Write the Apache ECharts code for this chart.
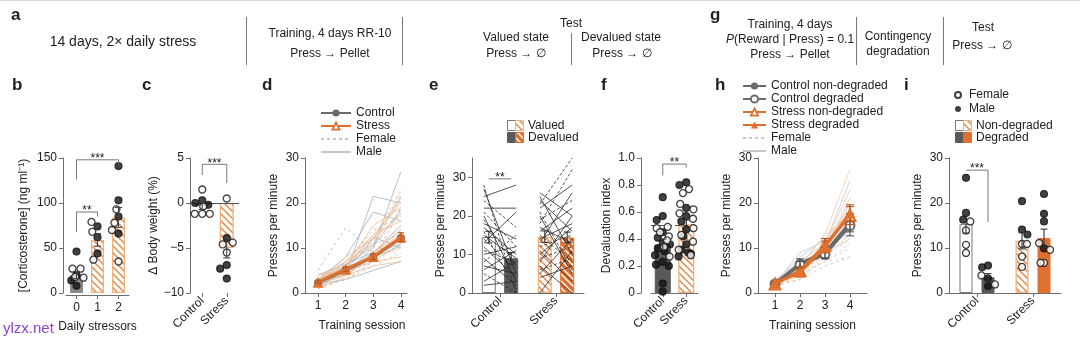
<!DOCTYPE html>
<html><head><meta charset="utf-8">
<script src="https://cdn.jsdelivr.net/npm/echarts@6/dist/echarts.min.js"></script>
<style>html,body{margin:0;padding:0;background:#fff}#c{width:1080px;height:344px}</style>
</head><body><div id="c"></div>
<script>
// ================= DATA =================
// b: corticosterone
const bCats = ['0', '1', '2'];
const bMeans = [20, 59, 84];
const bSem = [4, 7, 11];
const bFemale = [[27, 27, 18, 17], [79, 68, 37], [93, 78, 70, 35]];
const bMale = [[46, 20, 14, 8], [74, 62, 44], [141, 103, 85, 66]];
// c: body weight
const cCats = ['Control', 'Stress'];
const cMeans = [-0.3, -5.0];
const cSem = [0.4, 1.1];
const cFemale = [[1.5, -0.4, -1.2, -1.2, -1.2], [0.5, -4.6, -4.4, -5.5]];
const cMale = [[0.3, 0.0, -0.2], [-3.9, -6.9, -7.3, -8.4]];
// d: training
const dSessions = [1, 2, 3, 4];
const dCtrlMean = [2.3, 5.1, 8.0, 12.2];
const dCtrlSem = [0.3, 0.5, 0.7, 1.0];
const dStressMean = [2.4, 5.3, 8.1, 12.4];
const dStressSem = [0.3, 0.5, 0.7, 1.0];
const dCtrlLines = [[2.0,4.0,9.0,14.0],[3.0,6.0,10.5,18.5],[1.5,3.0,7.0,11.0],[2.5,5.0,12.0,21.5],[3.0,5.5,8.0,10.5],[2.0,7.0,14.0,17.0],[4.0,6.5,9.0,15.0],[1.5,4.5,10.0,27.0],[2.0,3.0,5.0,7.0],[3.0,8.0,18.0,16.0],[2.5,4.0,21.5,20.0],[1.0,6.0,11.0,13.0],[5.0,14.5,9.0,12.0],[2.0,5.5,8.5,11.0],[3.0,4.5,7.0,19.0],[2.0,6.0,12.5,10.0]];
const dCtrlSex = ['M','M','F','M','M','F','M','M','M','M','M','F','F','M','F','M'];
const dStressLines = [[2.0,5.0,8.0,12.0],[3.0,7.0,13.0,20.0],[1.0,3.0,6.0,9.0],[2.0,6.0,11.0,22.5],[4.0,5.0,7.0,8.0],[2.0,4.0,9.0,15.0],[3.0,6.0,15.0,19.0],[1.5,5.0,8.0,13.0],[2.0,8.0,12.0,17.5],[3.0,4.0,6.0,7.0],[2.0,6.5,10.0,18.0],[1.0,3.5,9.0,14.0],[3.0,7.0,11.0,21.0],[2.5,5.0,7.0,11.0],[4.0,6.0,13.0,16.0],[2.0,4.0,8.0,10.0],[1.0,6.0,12.0,23.0],[3.0,5.0,9.0,13.0]];
const dStressSex = ['M','M','F','F','M','M','M','F','M','M','F','M','M','F','M','M','F','M'];
// e: devaluation test
const eCats = ['Control', 'Stress'];
const eMeans = [[14.5, 9.0], [14.6, 14.4]];
const eSem = [[1.5, 1.5], [1.5, 1.4]];
const eCtrlValued   = [28, 27, 25, 22, 21, 20, 19, 18, 17, 16, 15, 14, 13, 12, 11, 10, 9, 8, 7, 6, 5, 3, 2, 24];
const eCtrlDevalued = [0, 5, 28, 22, 12, 3, 7, 14, 10, 1, 9, 6, 21, 4, 8, 12, 2, 15, 5, 11, 0, 8, 3, 17];
const eCtrlSex = ['F','M','M','M','F','M','F','M','M','F','M','F','M','M','F','M','M','F','M','M','F','M','M','F'];
const eStressValued   = [23, 18, 26, 25, 22, 20, 19, 17, 16, 15, 14, 13, 12, 11, 10, 9, 8, 7, 6, 5, 0, 21, 24, 4];
const eStressDevalued = [35, 32, 20, 10, 28, 5, 24, 13, 22, 8, 18, 26, 15, 3, 17, 12, 20, 0, 9, 14, 11, 6, 16, 7];
const eStressSex = ['F','F','M','M','M','M','F','M','M','F','M','M','F','M','M','F','M','M','F','M','M','F','M','M'];
// f: devaluation index
const fCats = ['Control', 'Stress'];
const fMeans = [0.36, 0.51];
const fSem = [0.04, 0.03];
const fFemale = [[0.49, 0.48, 0.45, 0.42, 0.39, 0.34, 0.27], [0.77, 0.74, 0.66, 0.62, 0.59, 0.55, 0.48, 0.43, 0.38, 0.32, 0.28]];
const fMale = [[0.71, 0.57, 0.54, 0.45, 0.41, 0.37, 0.36, 0.33, 0.31, 0.28, 0.23, 0.21, 0.20, 0.07, 0.01], [0.82, 0.80, 0.63, 0.57, 0.53, 0.47, 0.42, 0.36, 0.32, 0.30, 0.29, 0.27]];
// h: RI training
const hSessions = [1, 2, 3, 4];
const hNames = ['Control non-degraded', 'Control degraded', 'Stress non-degraded', 'Stress degraded'];
const hMeans = [[2.1, 6.6, 9.0, 15.6], [2.0, 6.2, 8.6, 15.0], [2.0, 5.0, 10.6, 17.2], [2.2, 4.6, 10.2, 17.8]];
const hSem = [[0.3, 1.0, 1.2, 2.0], [0.3, 0.8, 1.0, 2.3], [0.3, 0.8, 1.5, 2.0], [0.3, 0.8, 1.3, 1.8]];
const hCtrlLines = [[2.0,6.0,9.0,14.0],[2.5,8.0,12.0,18.0],[1.5,4.0,7.0,10.0],[3.0,7.0,11.0,25.0],[2.0,5.0,8.0,13.0],[2.0,9.0,11.5,16.0],[1.5,3.0,6.0,8.0],[2.0,6.5,10.0,20.0],[3.0,5.0,9.0,12.0],[2.0,7.0,8.0,15.0],[1.5,5.0,10.0,17.0],[2.0,4.0,7.0,11.0]];
const hCtrlSex = ['M','M','F','M','F','M','F','M','M','F','M','F'];
const hStressLines = [[2.0,5.0,11.0,19.0],[2.0,4.0,9.0,14.0],[3.0,6.0,13.0,27.5],[1.5,3.0,8.0,12.0],[2.0,5.0,10.0,21.0],[2.5,4.0,12.0,18.0],[3.0,6.0,9.0,15.0],[1.5,4.0,7.0,8.0],[2.0,5.5,11.0,23.0],[2.0,3.0,9.0,13.0],[2.5,6.0,13.0,17.0],[1.5,4.0,10.0,16.0]];
const hStressSex = ['M','F','M','F','M','M','F','F','M','F','M','F'];
// i: contingency degradation test
const iCats = ['Control', 'Stress'];
const iMeans = [[15.3, 3.5], [11.6, 12.2]];
const iSem = [[2.0, 0.8], [1.8, 2.0]];
const iFemale = [[[15.9, 13.9, 10.7, 8.9], [3.9, 1.9]], [[10.9, 10.9, 8.1, 5.8], [11.1, 9.6, 6.7, 6.7]]];
const iMale = [[[25.6, 17.8, 16.3], [6.1, 5.7, 3.2, 1.5]], [[20.4, 14.1, 13.0], [22.0, 17.6, 15.9, 9.9]]];

// ================= STYLE / LAYOUT =================
const FONT = "'Liberation Sans', Arial, Helvetica, sans-serif";
const TXT = '#222', AX = '#6e6e6e';
const ORANGE = '#e0702f', ORANGE_LIGHT = '#efb07c', DARK = '#5a5a5a';
const PLOT_TOP = 158, PLOT_H = 135;

function hatch(bg, fg, size, lw) {
  const c = document.createElement('canvas'); c.width = c.height = size;
  const x = c.getContext('2d'); x.fillStyle = bg; x.fillRect(0, 0, size, size);
  x.strokeStyle = fg; x.lineWidth = lw; x.beginPath();
  x.moveTo(-1, -1); x.lineTo(size + 1, size + 1);
  x.moveTo(size - 2, -2); x.lineTo(size + 2, 2);
  x.moveTo(-2, size - 2); x.lineTo(2, size + 2);
  x.stroke();
  return { image: c, repeat: 'repeat' };
}
const HATCH = hatch('#ffffff', '#e38a4e', 7, 1.5);
const HATCH_INV = hatch(ORANGE, '#ffffff', 7, 1.4);
const ST = {
  gray: { color: '#8a8a8a', borderColor: '#8a8a8a', borderWidth: 1 },
  white: { color: '#ffffff', borderColor: '#7a7a7a', borderWidth: 1 },
  dark: { color: DARK, borderColor: DARK, borderWidth: 1 },
  hatch: { color: HATCH, borderColor: ORANGE_LIGHT, borderWidth: 1.3 },
  hatchInv: { color: HATCH_INV, borderColor: ORANGE, borderWidth: 1 },
  solid: { color: ORANGE, borderColor: ORANGE, borderWidth: 1 }
};

const grids = [], xAxis = [], yAxis = [], series = [], graphic = [], legend = [];
function isObj(o) { return o && typeof o === 'object' && !Array.isArray(o) && !(o.image); }
function merge(a, b) { for (const k in b) { if (isObj(b[k]) && isObj(a[k])) merge(a[k], b[k]); else a[k] = b[k]; } return a; }
function addGrid(left, width) { grids.push({ left, width, top: PLOT_TOP, height: PLOT_H }); return grids.length - 1; }
function base() {
  return {
    axisLine: { show: true, onZero: false, lineStyle: { color: AX, width: 1 } },
    axisTick: { show: true, length: 4, lineStyle: { color: AX, width: 1 } },
    axisLabel: { color: TXT, fontSize: 12, fontFamily: FONT, margin: 6 },
    splitLine: { show: false },
    nameTextStyle: { color: TXT, fontSize: 12, fontFamily: FONT }
  };
}
function addY(g, min, max, interval, name, nameGap, opts) {
  yAxis.push(merge(merge(base(), { gridIndex: g, type: 'value', min, max, interval, name, nameLocation: 'middle', nameGap, nameRotate: 90 }), opts || {}));
  return yAxis.length - 1;
}
function addCatX(g, cats, opts) {
  xAxis.push(merge(merge(base(), { gridIndex: g, type: 'category', data: cats, boundaryGap: true, axisTick: { alignWithLabel: true } }), opts || {}));
  return xAxis.length - 1;
}
function addValX(g, min, max, ticks, name, nameGap, opts) {
  xAxis.push(merge(merge(base(), { gridIndex: g, type: 'value', min, max, name, nameLocation: 'middle', nameGap,
    axisTick: { customValues: ticks }, axisLabel: { customValues: ticks, margin: 7 } }), opts || {}));
  return xAxis.length - 1;
}
function addHX(g, n, opts) { xAxis.push(merge({ gridIndex: g, type: 'category', data: [...Array(n).keys()].map(String), show: false }, opts || {})); return xAxis.length - 1; }
function addHY(g, min, max) { yAxis.push({ gridIndex: g, type: 'value', min, max, show: false }); return yAxis.length - 1; }

function pts(xi, females, males) {
  const out = [];
  males.forEach(v => out.push({ value: [xi, v], itemStyle: { color: '#111', borderColor: '#111', borderWidth: 1.2 } }));
  females.forEach(v => out.push({ value: [xi, v], itemStyle: { color: '#fff', borderColor: '#111', borderWidth: 1.3 } }));
  return out;
}
function errSeries(xi, yi, items, color, cap) { // items: [x, mean, sem]
  return { type: 'custom', xAxisIndex: xi, yAxisIndex: yi, z: 6, silent: true,
    data: items.map(d => [d[0], d[1] - d[2], d[1] + d[2]]), encode: { x: 0, y: [1, 2] },
    renderItem: (p, api) => {
      const d = items[p.dataIndex];
      const a = api.coord([d[0], d[1] + d[2]]), b = api.coord([d[0], d[1] - d[2]]);
      const h = cap / 2, st = { stroke: color, lineWidth: 1.1 };
      return { type: 'group', children: [
        { type: 'line', shape: { x1: a[0], y1: a[1], x2: b[0], y2: b[1] }, style: st },
        { type: 'line', shape: { x1: a[0] - h, y1: a[1], x2: a[0] + h, y2: a[1] }, style: st },
        { type: 'line', shape: { x1: b[0] - h, y1: b[1], x2: b[0] + h, y2: b[1] }, style: st }] };
    } };
}
function bracket(xi, yi, items) { // {x1,x2,y,d1,d2,t}
  return { type: 'custom', xAxisIndex: xi, yAxisIndex: yi, z: 7, silent: true,
    data: items.map(it => [it.x1, it.x2, it.y]), encode: { x: [0, 1], y: 2 },
    renderItem: (p, api) => {
      const it = items[p.dataIndex];
      const a = api.coord([it.x1, it.y]), b = api.coord([it.x2, it.y]);
      const a2 = api.coord([it.x1, it.d1]), b2 = api.coord([it.x2, it.d2]);
      return { type: 'group', children: [
        { type: 'polyline', shape: { points: [a2, a, b, b2] }, style: { stroke: '#777', lineWidth: 1, fill: null } },
        { type: 'text', x: (a[0] + b[0]) / 2, y: a[1] + 5, style: { text: it.t, fill: TXT, font: '12px ' + FONT, align: 'center', verticalAlign: 'bottom', textAlign: 'center', textVerticalAlign: 'bottom' } }] };
    } };
}
const rotLabels = { axisLabel: { rotate: 45, margin: 6 } };
const minus = v => String(v).replace('-', '\u2212');
const HIDE_SYM = { color: 'rgba(0,0,0,0)', borderColor: 'rgba(0,0,0,0)', opacity: 0 };

// ================= PANEL b =================
{
  const g = addGrid(66, 63);
  const xi = addCatX(g, bCats, { jitter: 16, jitterOverlap: false, jitterMargin: 0.5, offset: 2, axisLabel: { margin: 7 },
    name: 'Daily stressors', nameLocation: 'middle', nameGap: 26 });
  const yi = addY(g, 0, 150, 50, '[Corticosterone] (ng ml\u207B\u00B9)', 33, { offset: 3 });
  series.push({ type: 'bar', xAxisIndex: xi, yAxisIndex: yi, barWidth: 13, z: 2, silent: true,
    data: bMeans.map((v, k) => ({ value: v, itemStyle: k === 0 ? ST.gray : ST.hatch })) });
  series.push(errSeries(xi, yi, bMeans.map((v, k) => [k, v, bSem[k]]), '#444', 7));
  series.push({ type: 'scatter', xAxisIndex: xi, yAxisIndex: yi, symbolSize: 7, z: 5, silent: true,
    data: bCats.flatMap((c, k) => pts(k, bFemale[k], bMale[k])) });
  series.push(bracket(xi, yi, [{ x1: 0, x2: 2, y: 148, d1: 126, d2: 143, t: '***' }, { x1: 0, x2: 1, y: 90, d1: 68, d2: 85, t: '**' }]));
}
// ================= PANEL c =================
{
  const g = addGrid(190, 49);
  const xi = addCatX(g, cCats, merge({ jitter: 16, jitterOverlap: false, jitterMargin: 0.5, axisLine: { show: false } }, rotLabels));
  const yi = addY(g, -10, 5, 5, '\u0394 Body weight (%)', 27, { axisLabel: { formatter: minus } });
  series.push({ type: 'bar', xAxisIndex: xi, yAxisIndex: yi, barWidth: 14, z: 2, silent: true,
    data: cMeans.map((v, k) => ({ value: v, itemStyle: k === 0 ? ST.gray : ST.hatch })),
    markLine: { silent: true, symbol: 'none', label: { show: false }, lineStyle: { color: '#555', width: 1, type: 'solid' }, data: [{ yAxis: 0 }] } });
  series.push(errSeries(xi, yi, cMeans.map((v, k) => [k, v, cSem[k]]), '#444', 7));
  series.push({ type: 'scatter', xAxisIndex: xi, yAxisIndex: yi, symbolSize: 7, z: 5, silent: true,
    data: cCats.flatMap((c, k) => pts(k, cFemale[k], cMale[k])) });
  series.push(bracket(xi, yi, [{ x1: 0, x2: 1, y: 4.3, d1: 3.1, d2: 2.2, t: '***' }]));
}
// ================= PANEL d =================
{
  const g = addGrid(305, 102);
  const xi = addValX(g, 0.53, 4.217, dSessions, 'Training session', 27, { nameTextStyle: { padding: [0, 0, 0, 12] } });
  const yi = addY(g, 0, 30, 10, 'Presses per minute', 25);
  const ind = (lines, sex, color) => lines.forEach((arr, i) => series.push({ type: 'line', name: sex[i] === 'F' ? 'd:Female' : 'd:Male',
    xAxisIndex: xi, yAxisIndex: yi, silent: true, z: 1, symbol: 'none', showSymbol: false, itemStyle: { color },
    data: dSessions.map((s, j) => [s, arr[j]]), lineStyle: { color, width: 0.9, opacity: 0.9, type: sex[i] === 'F' ? [3, 3] : 'solid' } }));
  ind(dCtrlLines, dCtrlSex, '#a6b3c1');
  ind(dStressLines, dStressSex, '#f1bd95');
  series.push({ type: 'line', name: 'd:Control', xAxisIndex: xi, yAxisIndex: yi, z: 3, silent: true, symbol: 'circle', symbolSize: 8,
    data: dSessions.map((s, j) => [s, dCtrlMean[j]]), lineStyle: { color: '#6b6b6b', width: 3 }, itemStyle: { color: '#6b6b6b' } });
  series.push({ type: 'line', name: 'd:Stress', xAxisIndex: xi, yAxisIndex: yi, z: 4, silent: true, symbol: 'triangle', symbolSize: 11,
    data: dSessions.map((s, j) => [s, dStressMean[j]]), lineStyle: { color: ORANGE, width: 3 }, itemStyle: { color: ORANGE } });
  series.push(errSeries(xi, yi, dSessions.map((s, j) => [s, dStressMean[j], dStressSem[j]]), '#b8561f', 6));
  legend.push({ left: 320, top: 107, orient: 'vertical', itemWidth: 30, itemHeight: 9, itemGap: 1, padding: 0, selectedMode: false,
    textStyle: { fontSize: 12, color: TXT, fontFamily: FONT }, formatter: n => n.slice(n.indexOf(':') + 1),
    data: [{ name: 'd:Control' }, { name: 'd:Stress', itemStyle: { color: '#fff', borderColor: ORANGE, borderWidth: 1.8 } },
      { name: 'd:Female', itemStyle: HIDE_SYM, lineStyle: { color: '#8c8c8c', width: 1, type: [3, 3], opacity: 1 } },
      { name: 'd:Male', itemStyle: HIDE_SYM, lineStyle: { color: '#8c8c8c', width: 1, type: 'solid', opacity: 1 } }] });
}
// ================= PANEL e =================
{
  const L = 472, W = 112, OFF = 11.2;
  const g = addGrid(L, W);
  addCatX(g, eCats, rotLabels);
  addY(g, 0, 35, 10, 'Presses per minute', 25, { axisLabel: { customValues: [0, 10, 20, 30] }, axisTick: { customValues: [0, 10, 20, 30] } });
  const band = W / eCats.length;
  const valued = [eCtrlValued, eStressValued], deval = [eCtrlDevalued, eStressDevalued], sexes = [eCtrlSex, eStressSex];
  eCats.forEach((cat, k) => {
    const c = L + band * (k + 0.5);
    const sg = addGrid(c - 2 * OFF, 4 * OFF);
    const xi = addHX(sg, 2), yi = addHY(sg, 0, 35);
    const styles = k === 0 ? [ST.white, ST.dark] : [ST.hatch, ST.hatchInv];
    series.push({ type: 'bar', xAxisIndex: xi, yAxisIndex: yi, barWidth: 14, z: 2, silent: true,
      data: eMeans[k].map((v, j) => ({ value: v, itemStyle: styles[j] })) });
    const lg = addGrid(c - OFF - 5, 2 * OFF + 10);
    const lx = addHX(lg, 2, { boundaryGap: false }), ly = addHY(lg, 0, 35);
    valued[k].forEach((v, i) => series.push({ type: 'line', xAxisIndex: lx, yAxisIndex: ly, z: 3, silent: true, symbol: 'none',
      data: [v, deval[k][i]], lineStyle: { color: '#2a2a2a', width: 0.8, type: sexes[k][i] === 'F' ? [3, 2] : 'solid' } }));
    series.push(errSeries(xi, yi, eMeans[k].map((v, j) => [j, v, eSem[k][j]]), '#333', 7));
    if (k === 0) series.push(bracket(xi, yi, [{ x1: 0, x2: 1, y: 29.6, d1: 29.6, d2: 29.6, t: '**' }]));
  });
}
// ================= PANEL f =================
{
  const g = addGrid(651, 47);
  const xi = addCatX(g, fCats, merge({ jitter: 22, jitterOverlap: false, jitterMargin: 0.3 }, rotLabels));
  const yi = addY(g, 0, 1, 0.2, 'Devaluation index', 28, { offset: 10, axisLabel: { formatter: v => v === 0 ? '0' : v.toFixed(1) } });
  series.push({ type: 'bar', xAxisIndex: xi, yAxisIndex: yi, barWidth: 16, z: 2, silent: true,
    data: fMeans.map((v, k) => ({ value: v, itemStyle: k === 0 ? ST.dark : ST.hatch })),
    markLine: { silent: true, symbol: 'none', label: { show: false }, lineStyle: { color: '#555', width: 1, type: [5, 3] }, data: [{ yAxis: 0.5 }] } });
  series.push(errSeries(xi, yi, fMeans.map((v, k) => [k, v, fSem[k]]), '#333', 7));
  series.push({ type: 'scatter', xAxisIndex: xi, yAxisIndex: yi, symbolSize: 7, z: 5, silent: true,
    data: fCats.flatMap((c, k) => pts(k, fFemale[k], fMale[k])) });
  series.push(bracket(xi, yi, [{ x1: 0, x2: 1, y: 0.955, d1: 0.87, d2: 0.93, t: '**' }]));
}
// ================= PANEL h =================
{
  const g = addGrid(758, 109);
  const xi = addValX(g, 0.32, 4.68, hSessions, 'Training session', 27);
  const yi = addY(g, 0, 30, 10, 'Presses per minute', 25);
  const ind = (lines, sex, color) => lines.forEach((arr, i) => series.push({ type: 'line', name: sex[i] === 'F' ? 'h:Female' : 'h:Male',
    xAxisIndex: xi, yAxisIndex: yi, silent: true, z: 1, symbol: 'none', showSymbol: false, itemStyle: { color },
    data: hSessions.map((s, j) => [s, arr[j]]), lineStyle: { color, width: 0.9, opacity: 0.9, type: sex[i] === 'F' ? [3, 3] : 'solid' } }));
  ind(hCtrlLines, hCtrlSex, '#c3cad3');
  ind(hStressLines, hStressSex, '#f4cba8');
  const sty = [
    { symbol: 'circle', size: 9, line: '#6b6b6b', item: { color: '#6b6b6b' } },
    { symbol: 'circle', size: 9, line: '#6b6b6b', item: { color: '#fff', borderColor: '#6b6b6b', borderWidth: 2 } },
    { symbol: 'triangle', size: 11, line: ORANGE, item: { color: '#f6c7a3', borderColor: ORANGE, borderWidth: 2 } },
    { symbol: 'triangle', size: 11, line: ORANGE, item: { color: ORANGE } }];
  hNames.forEach((nm, k) => series.push({ type: 'line', name: 'h:' + nm, xAxisIndex: xi, yAxisIndex: yi, z: 3 + k, silent: true,
    symbol: sty[k].symbol, symbolSize: sty[k].size, data: hSessions.map((s, j) => [s, hMeans[k][j]]),
    lineStyle: { color: sty[k].line, width: 3 }, itemStyle: sty[k].item }));
  hNames.forEach((nm, k) => series.push(errSeries(xi, yi, hSessions.map((s, j) => [s, hMeans[k][j], hSem[k][j]]), k < 2 ? '#555' : '#b8561f', 8)));
  legend.push({ left: 742, top: 80, orient: 'vertical', itemWidth: 23, itemHeight: 9, itemGap: 1, padding: 0, selectedMode: false,
    textStyle: { fontSize: 12, color: TXT, fontFamily: FONT }, formatter: n => n.slice(n.indexOf(':') + 1),
    data: hNames.map((nm, k) => (k === 2 ? { name: 'h:' + nm, itemStyle: { color: '#fff', borderColor: ORANGE, borderWidth: 1.8 } } : { name: 'h:' + nm }))
      .concat([{ name: 'h:Female', itemStyle: HIDE_SYM, lineStyle: { color: '#8c8c8c', width: 1, type: [3, 3], opacity: 1 } },
        { name: 'h:Male', itemStyle: HIDE_SYM, lineStyle: { color: '#8c8c8c', width: 1, type: 'solid', opacity: 1 } }]) });
}
// ================= PANEL i =================
{
  const L = 949, W = 112, OFF = 11;
  const g = addGrid(L, W);
  const mx = addCatX(g, iCats, rotLabels);
  const my = addY(g, 0, 30, 10, 'Presses per minute', 25);
  series.push({ type: 'scatter', name: 'i:Female', xAxisIndex: mx, yAxisIndex: my, data: [], symbolSize: 7, itemStyle: { color: '#fff', borderColor: '#111', borderWidth: 1.3 } });
  series.push({ type: 'scatter', name: 'i:Male', xAxisIndex: mx, yAxisIndex: my, data: [], symbolSize: 7, itemStyle: { color: '#111' } });
  const band = W / iCats.length;
  iCats.forEach((cat, k) => {
    const c = L + band * (k + 0.5);
    const sg = addGrid(c - 2 * OFF, 4 * OFF);
    const xi = addHX(sg, 2, { jitter: 14, jitterOverlap: false, jitterMargin: 0.3 }), yi = addHY(sg, 0, 30);
    const styles = k === 0 ? [ST.white, ST.dark] : [ST.hatch, ST.solid];
    series.push({ type: 'bar', xAxisIndex: xi, yAxisIndex: yi, barWidth: 13, z: 2, silent: true,
      data: iMeans[k].map((v, j) => ({ value: v, itemStyle: styles[j] })) });
    series.push(errSeries(xi, yi, iMeans[k].map((v, j) => [j, v, iSem[k][j]]), '#333', 7));
    series.push({ type: 'scatter', xAxisIndex: xi, yAxisIndex: yi, symbolSize: 7, z: 5, silent: true,
      data: [0, 1].flatMap(j => pts(j, iFemale[k][j], iMale[k][j])) });
    if (k === 0) series.push(bracket(xi, yi, [{ x1: 0, x2: 1, y: 27.3, d1: 27.3, d2: 15.8, t: '***' }]));
  });
  legend.push({ left: 954, top: 89, orient: 'vertical', itemWidth: 12, itemHeight: 6, itemGap: 2, padding: 0, selectedMode: false,
    textStyle: { fontSize: 12, color: TXT, fontFamily: FONT }, formatter: n => n.slice(n.indexOf(':') + 1),
    data: [{ name: 'i:Female' }, { name: 'i:Male' }] });
}

// ================= GRAPHICS (header, letters, legend boxes) =================
function gtext(x, y, text, o) {
  graphic.push({ type: 'text', x, y, silent: true, z: 100, style: Object.assign({ text, fill: TXT, font: '12px ' + FONT,
    align: 'center', verticalAlign: 'middle', textAlign: 'center', textVerticalAlign: 'middle' }, o || {}) });
}
function gline(x1, y1, x2, y2, color, w) { graphic.push({ type: 'line', silent: true, z: 100, shape: { x1, y1, x2, y2 }, style: { stroke: color, lineWidth: w } }); }
function grect(x, y, w, h, fill, stroke) { graphic.push({ type: 'rect', silent: true, z: 100, shape: { x, y, width: w, height: h }, style: { fill, stroke, lineWidth: 1 } }); }
const letter = (x, y, t) => gtext(x, y, t, { font: 'bold 17px ' + FONT, align: 'left', textAlign: 'left' });

gline(0, 0.5, 1080, 0.5, '#d6d6d6', 1);
letter(11, 15, 'a'); letter(710, 15, 'g');
[['b', 12], ['c', 142], ['d', 262], ['e', 429], ['f', 601], ['h', 715], ['i', 904]].forEach(([t, x]) => letter(x, 85, t));
gtext(123, 42, '14 days, 2\u00D7 daily stress', { font: '14px ' + FONT });
gline(246.5, 17, 246.5, 65, '#777', 1);
gtext(330, 34, 'Training, 4 days RR-10');
gtext(330, 54, 'Press \u2192 Pellet');
gline(402.5, 17, 402.5, 65, '#777', 1);
gtext(571, 24, 'Test');
gtext(516, 38, 'Valued state');
gtext(516, 54, 'Press \u2192 \u2205');
gline(571.5, 33, 571.5, 65, '#777', 1);
gtext(621, 38, 'Devalued state');
gtext(622, 54, 'Press \u2192 \u2205');
gtext(790, 25, 'Training, 4 days');
gtext(790, 40, '{i|P}(Reward | Press) = 0.1', { rich: { i: { fontStyle: 'italic', fontSize: 12, fontFamily: FONT, fill: TXT } } });
gtext(790, 55, 'Press \u2192 Pellet');
gline(856.5, 17, 856.5, 65, '#777', 1);
gtext(898, 37, 'Contingency');
gtext(898, 52, 'degradation');
gline(943.5, 17, 943.5, 65, '#777', 1);
gtext(983, 28, 'Test');
gtext(982, 46, 'Press \u2192 \u2205');
// e legend
grect(507.5, 120.5, 8, 10, '#fff', '#777'); grect(515.5, 120.5, 8, 10, HATCH, ORANGE_LIGHT);
grect(507.5, 132.5, 8, 10, DARK, DARK); grect(515.5, 132.5, 8, 10, HATCH_INV, ORANGE);
gtext(528, 126, 'Valued', { align: 'left', textAlign: 'left' });
gtext(528, 138, 'Devalued', { align: 'left', textAlign: 'left' });
// i legend boxes
grect(955.5, 120.5, 8, 10, '#fff', '#777'); grect(963.5, 120.5, 8, 10, HATCH, ORANGE_LIGHT);
grect(955.5, 132.5, 8, 10, DARK, DARK); grect(963.5, 132.5, 8, 10, ORANGE, ORANGE);
gtext(976, 126, 'Non-degraded', { align: 'left', textAlign: 'left' });
gtext(976, 138, 'Degraded', { align: 'left', textAlign: 'left' });
// watermark
gtext(3, 329, 'ylzx.net', { font: '15px ' + FONT, fill: '#9040d8', align: 'left', textAlign: 'left' });

const chart = echarts.init(document.getElementById('c'), null, { renderer: 'canvas' });
chart.setOption({ animation: false, backgroundColor: '#fff', textStyle: { fontFamily: FONT },
  grid: grids, xAxis, yAxis, series, legend, graphic, tooltip: { show: false } });
</script></body></html>
